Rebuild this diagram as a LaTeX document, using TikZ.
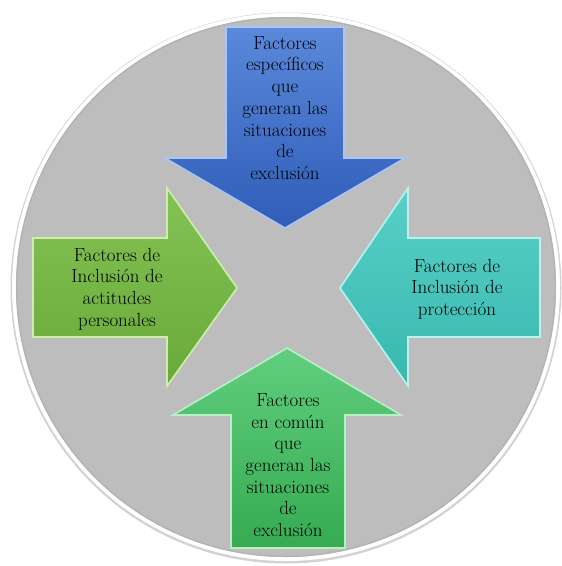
\documentclass[tikz,border=0pt]{standalone}
\usepackage{fontspec}
\definecolor{circgrey}{HTML}{BDBDBD}
\definecolor{blueT}{HTML}{5A88DA}
\definecolor{blueB}{HTML}{2F5DB8}
\definecolor{blueE}{HTML}{A9C4F5}
\definecolor{lgreenT}{HTML}{84C254}
\definecolor{lgreenB}{HTML}{68AA3A}
\definecolor{lgreenE}{HTML}{CDEFAA}
\definecolor{tealT}{HTML}{58D0C8}
\definecolor{tealB}{HTML}{38B8AE}
\definecolor{tealE}{HTML}{B5F3EE}
\definecolor{bgreenT}{HTML}{60CE7E}
\definecolor{bgreenB}{HTML}{36AB52}
\definecolor{bgreenE}{HTML}{B8F0C6}
\tikzset{
  arrowshape/.style={line width=1.6pt, line join=miter},
  label/.style={align=center, text=black, inner sep=0pt,
    font=\fontsize{19}{21.7}\selectfont}
}
\begin{document}
\begin{tikzpicture}[x=1pt,y=-1pt]
\useasboundingbox (0,0) rectangle (562,566);
% background disc
\fill[gray!35] (286,288) circle[radius=275.5];
\fill[white] (286,287) circle[radius=274];
\fill[circgrey] (286,287) circle[radius=270];
\draw[gray!60, line width=1.2pt] (286,287) circle[radius=269.4];
% top arrow (blue, pointing down)
\draw[arrowshape, draw=blueE, top color=blueT, bottom color=blueB]
  (226,27) -- (344,27) -- (344,158) -- (405,158) -- (285,228) -- (165,158) -- (226,158) -- cycle;
% left arrow (green, pointing right)
\draw[arrowshape, draw=lgreenE, top color=lgreenT, bottom color=lgreenB]
  (33,238) -- (167,238) -- (167,188) -- (237,288) -- (167,386) -- (167,337) -- (33,337) -- cycle;
% right arrow (teal, pointing left)
\draw[arrowshape, draw=tealE, top color=tealT, bottom color=tealB]
  (540,238) -- (408,238) -- (408,188) -- (340,288) -- (408,386) -- (408,337) -- (540,337) -- cycle;
% bottom arrow (green, pointing up)
\draw[arrowshape, draw=bgreenE, top color=bgreenT, bottom color=bgreenB]
  (231,548) -- (345,548) -- (345,415) -- (401,415) -- (287,348) -- (173,415) -- (231,415) -- cycle;
% texts
\node[label] (top) at (285,108) {Factores\\específicos\\que\\generan las\\situaciones\\de\\exclusión};
\node[label] (left) at (117,289) {Factores de\\Inclusión de\\actitudes\\personales};
\node[label] (right) at (457,289) {Factores de\\Inclusión de\\protección};
\node[label] (bottom) at (288,465) {Factores\\en común\\que\\generan las\\situaciones\\de\\exclusión};
\end{tikzpicture}
\end{document}
